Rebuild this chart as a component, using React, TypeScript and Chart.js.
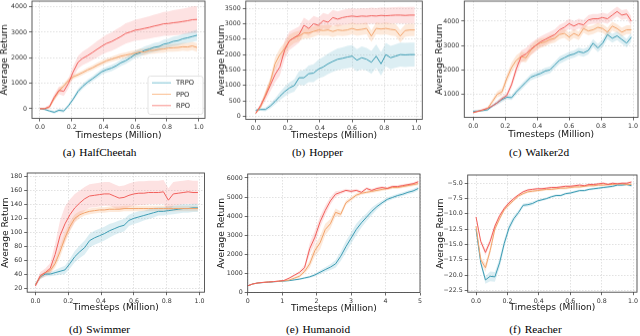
import React, { useEffect, useRef } from "react";
import { Chart, registerables } from "chart.js";

Chart.register(...registerables);

// ---------------- data ----------------
const STEPS_1M = [0, 0.03, 0.06, 0.09, 0.12, 0.15, 0.18, 0.21, 0.24, 0.27, 0.3, 0.33, 0.36, 0.39, 0.42, 0.45, 0.48, 0.51, 0.54, 0.57, 0.6, 0.63, 0.66, 0.69, 0.72, 0.75, 0.78, 0.81, 0.84, 0.87, 0.9, 0.93, 0.96, 0.99];
const STEPS_HUM = [0, 0.15, 0.3, 0.45, 0.6, 0.75, 0.9, 1.05, 1.2, 1.35, 1.5, 1.65, 1.8, 1.95, 2.1, 2.25, 2.4, 2.55, 2.7, 2.85, 3, 3.15, 3.3, 3.45, 3.6, 3.75, 3.9, 4.05, 4.2, 4.35, 4.5, 4.65, 4.8, 4.95];

const SERIES_LABELS = ["TRPO", "PPO", "RPO"];

// HalfCheetah
const HC_TRPO = [0, -30, -90, -140, -60, -90, 120, 380, 680, 880, 1040, 1170, 1310, 1450, 1530, 1590, 1680, 1800, 1880, 2000, 2130, 2190, 2290, 2340, 2410, 2440, 2530, 2570, 2640, 2670, 2740, 2780, 2830, 2880];
const HC_TRPO_SD = [20, 30, 40, 50, 60, 60, 70, 80, 100, 100, 100, 100, 110, 110, 110, 120, 120, 130, 130, 140, 140, 150, 150, 160, 170, 170, 180, 180, 190, 190, 200, 200, 210, 220];
const HC_PPO = [0, 0, 60, 400, 700, 900, 1100, 1250, 1330, 1420, 1520, 1600, 1700, 1790, 1880, 1940, 2000, 2060, 2100, 2140, 2180, 2230, 2220, 2280, 2290, 2330, 2340, 2380, 2390, 2400, 2430, 2420, 2460, 2400];
const HC_PPO_SD = [20, 30, 50, 80, 100, 100, 100, 90, 90, 90, 90, 90, 100, 100, 100, 100, 110, 110, 110, 120, 120, 120, 130, 130, 130, 140, 140, 140, 150, 150, 150, 160, 160, 170];
const HC_RPO = [0, 0, 80, 450, 720, 680, 1000, 1450, 1820, 1980, 2080, 2200, 2330, 2450, 2560, 2630, 2730, 2830, 2950, 3010, 3080, 3110, 3150, 3190, 3240, 3280, 3330, 3340, 3370, 3390, 3420, 3450, 3490, 3500];
const HC_RPO_SD = [20, 40, 80, 120, 150, 180, 200, 220, 250, 270, 280, 300, 320, 330, 350, 360, 380, 380, 400, 400, 410, 420, 430, 440, 450, 460, 470, 480, 490, 500, 500, 510, 520, 520];

// Hopper
const HOP_TRPO = [200, 220, 220, 330, 480, 650, 800, 920, 1000, 1250, 1250, 1380, 1400, 1530, 1600, 1700, 1780, 1850, 1880, 1920, 1950, 1820, 1900, 1850, 1750, 1950, 1700, 2000, 1900, 1950, 2000, 1990, 2000, 2000];
const HOP_TRPO_SD = [20, 40, 60, 80, 100, 130, 160, 180, 200, 220, 250, 270, 290, 300, 320, 330, 340, 350, 350, 360, 360, 360, 370, 370, 370, 380, 380, 380, 380, 380, 390, 390, 390, 390];
const HOP_PPO = [100, 300, 700, 1100, 1700, 2000, 2200, 2450, 2550, 2600, 2700, 2700, 2750, 2800, 2780, 2800, 2750, 2800, 2780, 2800, 2850, 2800, 2820, 2850, 2600, 2850, 2830, 2850, 2820, 2800, 2600, 2780, 2800, 2800];
const HOP_PPO_SD = [30, 80, 120, 150, 200, 200, 200, 200, 180, 170, 170, 170, 170, 170, 170, 180, 180, 180, 180, 180, 190, 190, 190, 190, 190, 190, 190, 190, 200, 200, 200, 200, 200, 200];
const HOP_RPO = [100, 350, 650, 1000, 1350, 1600, 2150, 2450, 2550, 2650, 2950, 2850, 3000, 2950, 3100, 3050, 3200, 3150, 3200, 3230, 3250, 3230, 3250, 3240, 3260, 3250, 3270, 3260, 3270, 3280, 3280, 3270, 3280, 3280];
const HOP_RPO_SD = [30, 80, 150, 200, 250, 280, 300, 300, 280, 260, 250, 250, 250, 250, 250, 250, 250, 250, 250, 250, 250, 250, 260, 260, 260, 260, 260, 260, 260, 260, 270, 270, 270, 270];

// Walker2d
const WK_TRPO = [300, 310, 330, 360, 520, 650, 780, 880, 860, 1100, 1300, 1500, 1700, 1780, 1850, 1950, 2000, 2200, 2400, 2500, 2600, 2650, 2750, 2700, 2800, 3100, 2900, 3100, 3450, 3300, 3400, 3250, 3100, 3350];
const WK_TRPO_SD = [30, 30, 40, 50, 60, 80, 100, 100, 100, 120, 120, 120, 130, 130, 130, 140, 140, 140, 150, 150, 150, 150, 160, 160, 160, 170, 170, 170, 180, 180, 180, 180, 180, 180];
const WK_PPO = [250, 300, 350, 420, 700, 1000, 1100, 1650, 2100, 2400, 2550, 2500, 2800, 3000, 3100, 3150, 3250, 3300, 3450, 3500, 3350, 3500, 3400, 3700, 3600, 3650, 3750, 3700, 3550, 3800, 3700, 3550, 3650, 3650];
const WK_PPO_SD = [30, 30, 40, 60, 100, 120, 150, 180, 200, 200, 200, 200, 200, 200, 200, 180, 180, 180, 180, 180, 180, 180, 180, 180, 180, 180, 180, 180, 180, 180, 180, 180, 180, 180];
const WK_RPO = [250, 300, 360, 420, 520, 650, 820, 950, 1400, 2050, 2550, 2650, 2850, 3000, 3150, 3250, 3350, 3450, 3650, 3750, 3900, 3800, 3900, 3850, 4050, 4100, 4100, 4150, 4100, 4250, 4400, 4250, 4300, 4000];
const WK_RPO_SD = [30, 30, 40, 50, 60, 80, 100, 120, 150, 200, 250, 250, 250, 250, 220, 220, 220, 220, 200, 200, 200, 200, 200, 200, 200, 200, 200, 200, 200, 200, 200, 200, 200, 200];

// Swimmer
const SW_TRPO = [25, 36, 40, 40, 42, 44, 46, 55, 65, 72, 78, 88, 92, 95, 98, 102, 105, 108, 110, 117, 120, 122, 124, 126, 128, 130, 130, 131, 132, 133, 134, 134, 135, 135];
const SW_TRPO_SD = [2, 3, 3, 3, 4, 5, 6, 7, 8, 9, 10, 10, 10, 10, 10, 10, 9, 9, 9, 8, 8, 8, 7, 7, 7, 6, 6, 6, 6, 6, 6, 6, 6, 6];
const SW_PPO = [25, 36, 42, 45, 55, 72, 92, 108, 120, 125, 128, 130, 131, 132, 132, 133, 133, 133, 134, 134, 134, 134, 134, 134, 134, 134, 134, 134, 134, 134, 134, 134, 134, 134];
const SW_PPO_SD = [2, 3, 3, 4, 6, 8, 8, 7, 6, 5, 4, 4, 4, 4, 4, 4, 4, 4, 4, 4, 4, 4, 4, 4, 4, 4, 4, 4, 4, 4, 4, 4, 4, 4];
const SW_RPO = [23, 38, 42, 48, 68, 95, 112, 125, 135, 142, 148, 152, 153, 154, 155, 155, 152, 149, 150, 153, 155, 156, 156, 157, 157, 157, 158, 146, 155, 156, 157, 158, 157, 157];
const SW_RPO_SD = [3, 5, 6, 8, 15, 22, 25, 22, 20, 18, 17, 17, 17, 17, 17, 17, 17, 17, 17, 17, 17, 17, 17, 17, 17, 17, 17, 17, 17, 17, 17, 17, 17, 17];

// Humanoid
const HUM_TRPO = [350, 450, 500, 520, 540, 560, 580, 600, 620, 660, 700, 760, 820, 920, 1060, 1200, 1330, 1500, 1900, 2400, 2850, 3300, 3650, 3950, 4250, 4500, 4700, 4880, 4980, 5080, 5150, 5250, 5320, 5450];
const HUM_TRPO_SD = [20, 20, 20, 20, 20, 20, 20, 20, 20, 30, 40, 50, 60, 80, 100, 120, 150, 200, 250, 300, 300, 300, 250, 200, 200, 150, 120, 100, 100, 100, 100, 100, 100, 100];
const HUM_PPO = [350, 450, 500, 530, 550, 570, 590, 610, 650, 750, 850, 1100, 1500, 2200, 2600, 3300, 3600, 4200, 4100, 4700, 4900, 5100, 5200, 5250, 5300, 5350, 5400, 5450, 5500, 5500, 5550, 5600, 5650, 5700];
const HUM_PPO_SD = [20, 20, 20, 20, 20, 20, 20, 20, 40, 60, 80, 100, 200, 300, 350, 300, 250, 200, 150, 120, 100, 100, 80, 80, 80, 80, 80, 80, 80, 80, 80, 80, 80, 80];
const HUM_RPO = [350, 450, 500, 530, 550, 570, 600, 630, 750, 900, 1050, 1300, 2300, 2900, 3700, 4300, 4800, 5150, 5250, 5350, 5300, 5350, 5250, 5450, 5350, 5450, 5500, 5450, 5550, 5550, 5600, 5650, 5700, 5800];
const HUM_RPO_SD = [20, 20, 20, 20, 20, 20, 20, 20, 40, 60, 80, 150, 300, 350, 300, 250, 200, 150, 100, 80, 80, 80, 80, 80, 80, 80, 80, 80, 80, 80, 80, 80, 80, 80];

// Reacher
const RE_TRPO = [-12.5, -18, -20.8, -20.2, -20.3, -18.0, -14.8, -12.3, -10.8, -9.8, -8.6, -8.5, -8.3, -7.9, -7.7, -7.5, -7.2, -7.0, -7.0, -6.7, -6.6, -6.4, -6.2, -6.2, -6.0, -5.9, -5.8, -5.7, -5.6, -5.5, -5.3, -5.3, -5.2, -5.4];
const RE_TRPO_SD = [0.2, 0.4, 0.6, 0.8, 0.8, 0.8, 0.7, 0.6, 0.5, 0.4, 0.3, 0.3, 0.3, 0.2, 0.2, 0.2, 0.2, 0.2, 0.2, 0.2, 0.2, 0.2, 0.2, 0.2, 0.2, 0.2, 0.2, 0.2, 0.2, 0.2, 0.2, 0.2, 0.2, 0.2];
const RE_PPO = [-12, -17.5, -18.8, -16.0, -12.5, -10.8, -9.3, -8.5, -7.8, -7.1, -6.7, -6.4, -6.3, -6.2, -6.1, -6.0, -6.0, -5.9, -5.8, -5.8, -5.7, -5.6, -5.6, -5.5, -5.4, -5.4, -5.3, -5.3, -5.2, -5.2, -5.1, -5.1, -5.2, -5.2];
const RE_PPO_SD = [0.2, 0.5, 0.7, 0.6, 0.4, 0.3, 0.3, 0.3, 0.2, 0.2, 0.2, 0.2, 0.2, 0.2, 0.2, 0.2, 0.2, 0.2, 0.2, 0.2, 0.2, 0.2, 0.2, 0.2, 0.2, 0.2, 0.2, 0.2, 0.2, 0.2, 0.2, 0.2, 0.2, 0.2];
const RE_RPO = [-10.5, -14.5, -16.3, -14.5, -12.0, -10.3, -9.1, -8.2, -7.5, -6.9, -6.4, -6.1, -6.0, -5.9, -5.9, -5.8, -5.7, -5.7, -5.6, -5.5, -5.5, -5.4, -5.3, -5.4, -5.2, -5.2, -5.1, -5.0, -5.2, -5.0, -5.1, -5.0, -5.0, -4.8];
const RE_RPO_SD = [0.2, 0.4, 0.5, 0.5, 0.4, 0.3, 0.3, 0.3, 0.2, 0.2, 0.2, 0.2, 0.2, 0.2, 0.2, 0.2, 0.2, 0.2, 0.2, 0.2, 0.2, 0.2, 0.2, 0.2, 0.2, 0.2, 0.2, 0.2, 0.2, 0.2, 0.2, 0.2, 0.2, 0.2];

// tick labels
const X_TICKS_1M = [0, 0.2, 0.4, 0.6, 0.8, 1.0];
const X_TICKS_HUM = [0, 1, 2, 3, 4, 5];
const Y_TICKS_HC = [0, 1000, 2000, 3000, 4000];
const Y_TICKS_HOP = [0, 500, 1000, 1500, 2000, 2500, 3000, 3500];
const Y_TICKS_WK = [1000, 2000, 3000, 4000];
const Y_TICKS_SW = [20, 40, 60, 80, 100, 120, 140, 160, 180];
const Y_TICKS_HUM = [0, 1000, 2000, 3000, 4000, 5000, 6000];
const Y_TICKS_RE = [-22.5, -20.0, -17.5, -15.0, -12.5, -10.0, -7.5, -5.0];

// ---------------- styles ----------------
const LINE_COLORS: Record<string, string> = { TRPO: "#3d9cb3", PPO: "#f2a46c", RPO: "#f1605c" };
const BAND_COLORS: Record<string, string> = {
  TRPO: "rgba(96,178,200,0.22)",
  PPO: "rgba(247,168,108,0.25)",
  RPO: "rgba(245,110,110,0.2)",
};
const LEGEND_COLORS: Record<string, string> = { TRPO: "#7cc2d4", PPO: "#fbbd8f", RPO: "#f98f89" };
const SANS = "'DejaVu Sans', sans-serif";

type Panel = {
  letter: string;
  name: string;
  x: number[];
  means: number[][];
  sds: number[][];
  xTicks: number[];
  yTicks: number[];
  xFmt: (v: number) => string;
  yFmt: (v: number) => string;
  xMin: number; xMax: number; yMin: number; yMax: number;
  plot: { l: number; t: number; r: number; b: number };
  canvasL: number;
  xTitleY: number;
  legend?: boolean;
  cap: { x: number; y: number };
};

const f1 = (v: number) => v.toFixed(1);
const f0 = (v: number) => String(Math.round(v));
const fMinus = (v: number) => (v < 0 ? "\u2212" + Math.abs(v).toFixed(1) : v.toFixed(1));

const PANELS: Panel[] = [
  {
    letter: "a", name: "HalfCheetah", x: STEPS_1M,
    means: [HC_TRPO, HC_PPO, HC_RPO], sds: [HC_TRPO_SD, HC_PPO_SD, HC_RPO_SD],
    xTicks: X_TICKS_1M, yTicks: Y_TICKS_HC, xFmt: f1, yFmt: f0,
    xMin: -0.05, xMax: 1.04, yMin: -380, yMax: 4220,
    plot: { l: 32, t: 1, r: 205, b: 118 }, canvasL: 0, xTitleY: 135, legend: true,
    cap: { x: 99.5, y: 152.7 },
  },
  {
    letter: "b", name: "Hopper", x: STEPS_1M,
    means: [HOP_TRPO, HOP_PPO, HOP_RPO], sds: [HOP_TRPO_SD, HOP_PPO_SD, HOP_RPO_SD],
    xTicks: X_TICKS_1M, yTicks: Y_TICKS_HOP, xFmt: f1, yFmt: f0,
    xMin: -0.062, xMax: 1.037, yMin: -100, yMax: 3735,
    plot: { l: 246, t: 1, r: 422.5, b: 119 }, canvasL: 217.2, xTitleY: 135,
    cap: { x: 317.5, y: 152.7 },
  },
  {
    letter: "c", name: "Walker2d", x: STEPS_1M,
    means: [WK_TRPO, WK_PPO, WK_RPO], sds: [WK_TRPO_SD, WK_PPO_SD, WK_RPO_SD],
    xTicks: X_TICKS_1M, yTicks: Y_TICKS_WK, xFmt: f1, yFmt: f0,
    xMin: -0.056, xMax: 1.031, yMin: 50, yMax: 4827,
    plot: { l: 464.3, t: 1, r: 638, b: 117.3 }, canvasL: 435, xTitleY: 134.3,
    cap: { x: 539, y: 152.7 },
  },
  {
    letter: "d", name: "Swimmer", x: STEPS_1M,
    means: [SW_TRPO, SW_PPO, SW_RPO], sds: [SW_TRPO_SD, SW_PPO_SD, SW_RPO_SD],
    xTicks: X_TICKS_1M, yTicks: Y_TICKS_SW, xFmt: f1, yFmt: f0,
    xMin: -0.05, xMax: 1.03, yMin: 14, yMax: 185,
    plot: { l: 26.7, t: 172.7, r: 204, b: 292.7 }, canvasL: 0.5, xTitleY: 308,
    cap: { x: 99.5, y: 330.3 },
  },
  {
    letter: "e", name: "Humanoid", x: STEPS_HUM,
    means: [HUM_TRPO, HUM_PPO, HUM_RPO], sds: [HUM_TRPO_SD, HUM_PPO_SD, HUM_RPO_SD],
    xTicks: X_TICKS_HUM, yTicks: Y_TICKS_HUM, xFmt: f0, yFmt: f0,
    xMin: 0, xMax: 5, yMin: 0, yMax: 6209,
    plot: { l: 247.7, t: 174, r: 420, b: 292.7 }, canvasL: 217, xTitleY: 308.7,
    cap: { x: 318, y: 330.3 },
  },
  {
    letter: "f", name: "Reacher", x: STEPS_1M,
    means: [RE_TRPO, RE_PPO, RE_RPO], sds: [RE_TRPO_SD, RE_PPO_SD, RE_RPO_SD],
    xTicks: X_TICKS_1M, yTicks: Y_TICKS_RE, xFmt: f1, yFmt: fMinus,
    xMin: -0.053, xMax: 1.025, yMin: -22.8, yMax: -3.65,
    plot: { l: 467.7, t: 174.7, r: 637, b: 292.7 }, canvasL: 436, xTitleY: 308,
    cap: { x: 535.5, y: 330.3 },
  },
];

const framePlugin = {
  id: "frame",
  afterDatasetsDraw(chart: any) {
    const { ctx, chartArea: a } = chart;
    ctx.save();
    ctx.strokeStyle = "#4a4a4a";
    ctx.lineWidth = 0.9;
    ctx.strokeRect(a.left, a.top, a.right - a.left, a.bottom - a.top);
    ctx.restore();
  },
};

const boxLegendPlugin = {
  id: "boxLegend",
  afterDraw(chart: any, _args: any, opts: any) {
    if (!opts || !opts.show) return;
    const { ctx, chartArea: a } = chart;
    const w = 55, h = 38;
    const x0 = a.right - 2 - w, y0 = a.bottom - 4 - h;
    ctx.save();
    ctx.beginPath();
    const r = 2.5;
    ctx.moveTo(x0 + r, y0);
    ctx.lineTo(x0 + w - r, y0);
    ctx.quadraticCurveTo(x0 + w, y0, x0 + w, y0 + r);
    ctx.lineTo(x0 + w, y0 + h - r);
    ctx.quadraticCurveTo(x0 + w, y0 + h, x0 + w - r, y0 + h);
    ctx.lineTo(x0 + r, y0 + h);
    ctx.quadraticCurveTo(x0, y0 + h, x0, y0 + h - r);
    ctx.lineTo(x0, y0 + r);
    ctx.quadraticCurveTo(x0, y0, x0 + r, y0);
    ctx.closePath();
    ctx.fillStyle = "rgba(255,255,255,0.85)";
    ctx.fill();
    ctx.strokeStyle = "#dcdcdc";
    ctx.lineWidth = 0.8;
    ctx.stroke();
    const items = chart.data.datasets.filter((d: any) => d.label);
    items.forEach((d: any, i: number) => {
      const yy = y0 + 6.7 + i * 11.3;
      ctx.strokeStyle = LEGEND_COLORS[d.label];
      ctx.lineWidth = 1;
      ctx.beginPath();
      ctx.moveTo(x0 + 4, yy);
      ctx.lineTo(x0 + 23, yy);
      ctx.stroke();
      ctx.fillStyle = "#222";
      ctx.font = `6.7px ${SANS}`;
      ctx.textBaseline = "middle";
      ctx.textAlign = "left";
      ctx.fillText(d.label, x0 + 28, yy + 0.3);
    });
    ctx.restore();
  },
};

function PanelChart({ p }: { p: Panel }) {
  const ref = useRef<HTMLCanvasElement>(null);
  const top = p.plot.t - 10;
  const width = Math.round(p.plot.r + 10 - p.canvasL);
  const height = p.xTitleY + 4.5 - top;
  const padRight = p.canvasL + width - p.plot.r;

  useEffect(() => {
    if (!ref.current) return;
    const datasets: any[] = [];
    SERIES_LABELS.forEach((lab, i) => {
      const m = p.means[i], s = p.sds[i];
      datasets.push({
        data: p.x.map((x, k) => ({ x, y: m[k] + s[k] })),
        fill: "+1", backgroundColor: BAND_COLORS[lab], borderColor: "rgba(0,0,0,0)",
        borderWidth: 1, pointRadius: 0, tension: 0, order: 10,
      });
      datasets.push({
        data: p.x.map((x, k) => ({ x, y: m[k] - s[k] })),
        fill: false, borderColor: "rgba(0,0,0,0)", borderWidth: 1, pointRadius: 0, tension: 0, order: 10,
      });
    });
    SERIES_LABELS.forEach((lab, i) => {
      datasets.push({
        label: lab,
        data: p.x.map((x, k) => ({ x, y: p.means[i][k] })),
        borderColor: LINE_COLORS[lab], borderWidth: 1, pointRadius: 0, tension: 0, fill: false,
        order: 3 - i,
      });
    });

    const tickFont = { family: SANS, size: 6.3 };
    const titleFont = { family: SANS, size: 9.1, lineHeight: 1 };
    const chart = new Chart(ref.current, {
      type: "line",
      data: { datasets },
      plugins: [framePlugin, boxLegendPlugin],
      options: {
        animation: false,
        responsive: false,
        devicePixelRatio: 1,
        layout: { padding: { left: 0, top: 10, right: padRight, bottom: 0 } },
        plugins: {
          legend: { display: false },
          tooltip: { enabled: false },
          boxLegend: { show: !!p.legend },
        } as any,
        scales: {
          x: {
            type: "linear",
            min: p.xMin, max: p.xMax,
            afterBuildTicks: (s: any) => { s.ticks = p.xTicks.map((v) => ({ value: v })); },
            afterFit: (s: any) => { s.height = p.xTitleY + 4.5 - p.plot.b; },
            ticks: {
              callback: (v: any) => p.xFmt(Number(v)), font: tickFont, color: "#333",
              padding: 2, maxRotation: 0, autoSkip: false,
            },
            grid: { color: "#d6d6d6", lineWidth: 0.7, tickLength: 3, tickColor: "#444", tickWidth: 0.8 },
            border: { display: false, dash: [1.5, 1.5] },
            title: { display: true, text: "Timesteps (Million)", font: titleFont, color: "#111", padding: 0 },
          },
          y: {
            type: "linear",
            min: p.yMin, max: p.yMax,
            afterBuildTicks: (s: any) => { s.ticks = p.yTicks.map((v) => ({ value: v })); },
            afterFit: (s: any) => { s.width = p.plot.l - p.canvasL; },
            ticks: { callback: (v: any) => p.yFmt(Number(v)), font: tickFont, color: "#333", padding: 2, autoSkip: false },
            grid: { color: "#d6d6d6", lineWidth: 0.7, tickLength: 3, tickColor: "#444", tickWidth: 0.8 },
            border: { display: false, dash: [1.5, 1.5] },
            title: { display: true, text: "Average Return", font: titleFont, color: "#111", padding: 0 },
          },
        },
      } as any,
    });
    return () => chart.destroy();
  }, []);

  return (
    <canvas
      ref={ref}
      width={width}
      height={height}
      style={{ position: "absolute", left: p.canvasL, top, width, height }}
    />
  );
}

export default function App() {
  return (
    <div style={{ position: "fixed", left: 0, top: 0, width: 640, height: 336, overflow: "hidden", background: "#fff" }}>
      {PANELS.map((p) => (
        <PanelChart key={p.letter} p={p} />
      ))}
      {PANELS.map((p) => (
        <div
          key={"cap" + p.letter}
          style={{
            position: "absolute", left: p.cap.x, top: p.cap.y, transform: "translate(-50%, -50%)",
            font: "11.3px 'Liberation Serif', 'Times New Roman', serif", color: "#000", whiteSpace: "nowrap", lineHeight: 1,
          }}
        >
          ({p.letter})<span style={{ marginLeft: 4 }}>{p.name}</span>
        </div>
      ))}
    </div>
  );
}
